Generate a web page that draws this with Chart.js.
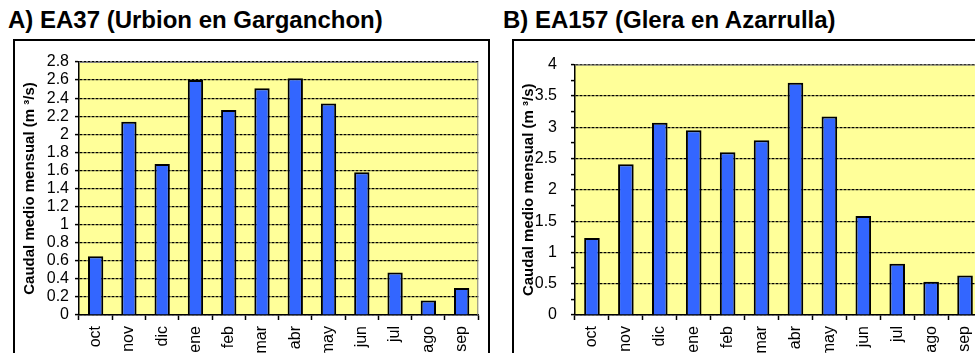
<!DOCTYPE html>
<html>
<head>
<meta charset="utf-8">
<script src="https://cdn.jsdelivr.net/npm/chart.js@4.4.0/dist/chart.umd.min.js"></script>
<style>
  html, body { margin:0; padding:0; background:#fff; width:975px; height:353px; overflow:hidden; position:relative; }
  .title { position:absolute; font-family:"Liberation Sans", Arial, sans-serif; font-weight:bold; font-size:24px; color:#000; white-space:nowrap; }
  .frame { position:absolute; border:2px solid #000; box-sizing:border-box; }
  canvas { position:absolute; }
</style>
</head>
<body>
<div class="title" id="tA" style="left:8px; top:6px;">A) EA37 (Urbion en Garganchon)</div>
<div class="title" id="tB" style="left:503px; top:6px;">B) EA157 (Glera en Azarrulla)</div>
<div class="frame" style="left:13px; top:39px; width:477px; height:330px;"></div>
<div class="frame" style="left:512px; top:39px; width:480px; height:330px;"></div>
<canvas id="cA" width="472" height="312" style="left:15px; top:41px;"></canvas>
<canvas id="cB" width="480" height="312" style="left:514px; top:41px;"></canvas>
<script>
const months = ['oct','nov','dic','ene','feb','mar','abr','may','jun','jul','ago','sep'];
const caudalA = [0.65, 2.14, 1.67, 2.60, 2.27, 2.51, 2.62, 2.34, 1.58, 0.47, 0.16, 0.30];
const caudalB = [1.23, 2.41, 3.07, 2.95, 2.60, 2.79, 3.71, 3.17, 1.58, 0.82, 0.53, 0.63];
const yTitle = 'Caudal medio mensual (m \u00B3/s)';
const yMaxA = 2.8, yStepA = 0.2;
const yMaxB = 4, yStepB = 0.25, yLabelStepB = 0.5;

const FONT = '"Liberation Sans", Arial, sans-serif';

const plotBg = {
  id: 'plotBg',
  beforeDraw(chart) {
    const {ctx, chartArea: a} = chart;
    ctx.save();
    ctx.fillStyle = '#FFFF99';
    ctx.fillRect(a.left, a.top, a.right - a.left, a.bottom - a.top);
    ctx.restore();
  },
  afterDatasetsDraw(chart) {
    const {ctx, chartArea: a} = chart;
    ctx.save();
    ctx.strokeStyle = '#808080';
    ctx.lineWidth = 1;
    ctx.beginPath();
    ctx.moveTo(a.left, a.top + 0.5);
    ctx.lineTo(a.right - 0.5, a.top + 0.5);
    ctx.lineTo(a.right - 0.5, a.bottom);
    ctx.stroke();
    ctx.restore();
  }
};

function makeChart(id, data, yMax, yStep, labelStep, pad, yWidth, tickPad) {
  return new Chart(document.getElementById(id), {
    type: 'bar',
    data: {
      labels: months,
      datasets: [{
        data: data,
        backgroundColor: '#3366FF',
        borderColor: '#000',
        borderWidth: 2,
        borderSkipped: 'bottom',
        barPercentage: 0.46,
        categoryPercentage: 1
      }]
    },
    options: {
      responsive: false,
      animation: false,
      devicePixelRatio: 1,
      layout: { padding: pad },
      plugins: { legend: { display: false }, tooltip: { enabled: false } },
      scales: {
        x: {
          offset: true,
          grid: { offset: true, drawOnChartArea: false, drawTicks: true, tickLength: 5, tickColor: '#000', tickWidth: 1.5 },
          border: { color: '#000', width: 1.5 },
          ticks: { color: '#000', font: { family: FONT, size: 16 }, minRotation: 90, maxRotation: 90, padding: 6, autoSkip: false },
          afterFit(s) { s.height = 38; }
        },
        y: {
          min: 0, max: yMax,
          grid: {
            color: (c) => {
              const v = c.tick ? c.tick.value : 0;
              const r = Math.round(v / labelStep * 1000) / 1000;
              return Math.abs(r - Math.round(r)) < 1e-6 ? '#000' : 'rgba(0,0,0,0)';
            },
            lineWidth: 1.2,
            tickLength: 4, tickColor: '#000', tickWidth: 1.5
          },
          border: { color: '#000', width: 1.5, dash: [3, 1] },
          ticks: {
            stepSize: yStep, autoSkip: false, color: '#000', padding: tickPad,
            font: { family: FONT, size: 16 },
            callback: (v) => {
              const r = Math.round(v / labelStep * 1000) / 1000;
              if (Math.abs(r - Math.round(r)) > 1e-6) return '';
              return String(Math.round(v * 10) / 10);
            }
          },
          title: { display: true, text: yTitle, color: '#000', font: { family: FONT, size: 15, weight: 'bold' }, padding: { top: 6, bottom: 0 } },
          afterFit(s) { s.width = yWidth; }
        }
      }
    },
    plugins: [plotBg]
  });
}

makeChart('cA', caudalA, yMaxA, yStepA, yStepA, { left: 0, top: 21, right: 4, bottom: 0 }, 64, 6);
makeChart('cB', caudalB, yMaxB, yStepB, yLabelStepB, { left: 0, top: 20, right: 12, bottom: 0 }, 61, 14);
</script>
</body>
</html>
